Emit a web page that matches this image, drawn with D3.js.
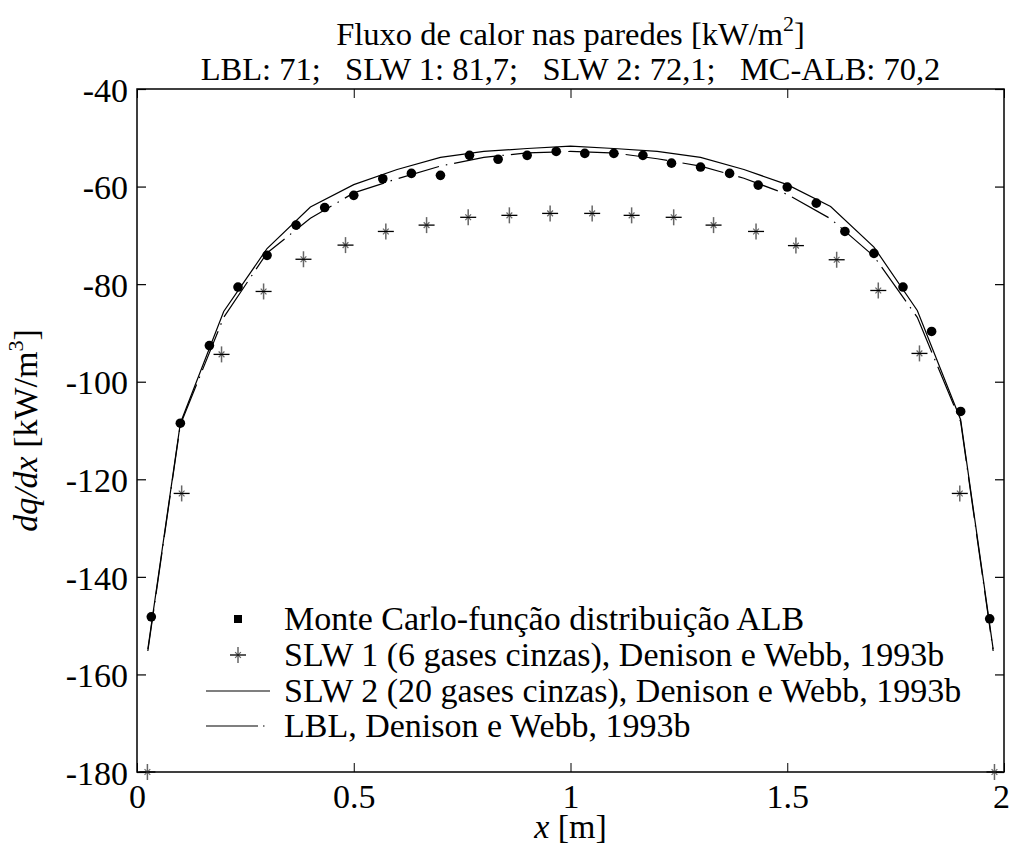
<!DOCTYPE html>
<html>
<head>
<meta charset="utf-8">
<script src="https://cdn.jsdelivr.net/npm/d3@7"></script>
<style>
  html, body { margin: 0; padding: 0; background: #fff; }
  svg { display: block; }
  text { font-family: "Liberation Serif", "Times New Roman", serif; fill: #000; }
</style>
</head>
<body>
<svg id="chart" width="1011" height="844"></svg>
<script>
// Monte Carlo (ALB distribution function) – filled circles
const mcX = [0.033, 0.1, 0.167, 0.233, 0.3, 0.367, 0.433, 0.5, 0.567, 0.633,
             0.7, 0.767, 0.833, 0.9, 0.967, 1.033, 1.1, 1.167, 1.233, 1.3,
             1.367, 1.433, 1.5, 1.567, 1.633, 1.7, 1.767, 1.833, 1.9, 1.967];
const mcY = [-148.2, -108.5, -92.6, -80.6, -74.1, -67.9, -64.3, -61.8, -58.4, -57.3,
             -57.7, -53.6, -54.4, -53.6, -52.8, -53.2, -53.2, -53.6, -55.2, -56.0,
             -57.3, -59.7, -60.1, -63.4, -69.2, -73.7, -80.6, -89.7, -106.1, -148.6];

// SLW 1 (6 grey gases) – asterisks
const slw1X = [0.024, 0.103, 0.195, 0.292, 0.384, 0.481, 0.574, 0.668, 0.764, 0.859, 0.953,
               1.05, 1.141, 1.238, 1.33, 1.428, 1.52, 1.614, 1.71, 1.805, 1.898, 1.978];
const slw1Y = [-180, -122.9, -94.4, -81.5, -74.9, -72.0, -69.2, -67.9, -66.3, -65.9, -65.5,
               -65.5, -65.9, -66.3, -67.9, -69.2, -72.1, -75.0, -81.3, -94.2, -122.9, -180];

// SLW 2 (20 grey gases) – solid line, and LBL – dash-dot line, on the same grid
const lineX = [0.025, 0.1, 0.2, 0.3, 0.4, 0.5, 0.6, 0.7, 0.8, 0.9, 1.0,
               1.1, 1.2, 1.3, 1.4, 1.5, 1.6, 1.7, 1.8, 1.9, 1.975];
const slw2Y = [-154.8, -108.5, -85.6, -72.7, -64.2, -59.6, -56.5, -54.0, -52.8, -52.2, -51.7,
               -52.2, -52.8, -54.0, -56.5, -59.6, -64.1, -72.4, -85.4, -107.8, -154.8];
const lblY  = [-155.2, -108.8, -86.8, -73.6, -66.5, -61.3, -58.4, -55.8, -54.0, -53.1, -52.8,
               -53.1, -54.3, -55.8, -58.3, -61.6, -66.6, -74.3, -86.8, -108.2, -155.2];

const xTicks = [0, 0.5, 1, 1.5, 2];
const xTickLabels = ["0", "0.5", "1", "1.5", "2"];
const yTicks = [-40, -60, -80, -100, -120, -140, -160, -180];
const yTickLabels = ["-40", "-60", "-80", "-100", "-120", "-140", "-160", "-180"];

const legendLabels = [
  "Monte Carlo-função distribuição ALB",
  "SLW 1 (6 gases cinzas), Denison e Webb, 1993b",
  "SLW 2 (20 gases cinzas), Denison e Webb, 1993b",
  "LBL, Denison e Webb, 1993b"
];

const svg = d3.select("#chart");
const L = 137, R = 1004, T = 89, B = 772;
const x = d3.scaleLinear().domain([0, 2]).range([L, R]);
const y = d3.scaleLinear().domain([-180, -40]).range([B, T]);

const FS = 34;      // axes, legend and labels
const TFS = 32.5;   // title lines
const SUP = 22;
const dashLBL = "42,7,1.5,7";

// Axes with inward ticks on all four sides
const tickLen = 9;
svg.append("g").attr("transform", `translate(0,${B})`)
  .call(d3.axisBottom(x).tickValues(xTicks).tickSizeInner(-tickLen).tickSizeOuter(0)
        .tickPadding(6).tickFormat((d, i) => xTickLabels[i]))
  .call(g => g.select(".domain").remove())
  .call(g => g.selectAll("line").attr("stroke", "#000").attr("stroke-width", 1))
  .call(g => g.selectAll("text").attr("font-size", FS).attr("y", 12).attr("dy", "0.72em")
              .attr("dx", d => d === 2 ? -3 : 0));
svg.append("g").attr("transform", `translate(0,${T})`)
  .call(d3.axisTop(x).tickValues(xTicks).tickSizeInner(-tickLen).tickSizeOuter(0).tickFormat(""))
  .call(g => g.select(".domain").remove())
  .call(g => g.selectAll("line").attr("stroke", "#000").attr("stroke-width", 1));
svg.append("g").attr("transform", `translate(${L},0)`)
  .call(d3.axisLeft(y).tickValues(yTicks).tickSizeInner(-tickLen).tickSizeOuter(0)
        .tickPadding(9).tickFormat((d, i) => yTickLabels[i]))
  .call(g => g.select(".domain").remove())
  .call(g => g.selectAll("line").attr("stroke", "#000").attr("stroke-width", 1.2))
  .call(g => g.selectAll("text").attr("font-size", FS).attr("dy", "0.36em"));
svg.append("g").attr("transform", `translate(${R},0)`)
  .call(d3.axisRight(y).tickValues(yTicks).tickSizeInner(-tickLen).tickSizeOuter(0).tickFormat(""))
  .call(g => g.select(".domain").remove())
  .call(g => g.selectAll("line").attr("stroke", "#000").attr("stroke-width", 1.2));

// Frame
svg.append("rect").attr("x", L).attr("y", T).attr("width", R - L).attr("height", B - T)
  .attr("fill", "none").attr("stroke", "#000").attr("stroke-width", 1.5);

const plot = svg.append("g");
const lineGen = d3.line().x(d => x(d[0])).y(d => y(d[1]));

// SLW 2 solid line
plot.append("path").datum(lineX.map((v, i) => [v, slw2Y[i]]))
  .attr("d", lineGen).attr("fill", "none").attr("stroke", "#000").attr("stroke-width", 1.2);
// LBL dash-dot line
plot.append("path").datum(lineX.map((v, i) => [v, lblY[i]]))
  .attr("d", lineGen).attr("fill", "none").attr("stroke", "#000").attr("stroke-width", 1.2)
  .attr("stroke-dasharray", dashLBL);

// Asterisk marker
function star(g, cx, cy, s) {
  const a = s * 0.36;
  g.append("line").attr("x1", cx).attr("x2", cx).attr("y1", cy - s).attr("y2", cy + s)
    .attr("stroke", "#666").attr("stroke-width", 1.5);
  g.append("line").attr("x1", cx - a).attr("x2", cx + a).attr("y1", cy - a).attr("y2", cy + a)
    .attr("stroke", "#666").attr("stroke-width", 1.2);
  g.append("line").attr("x1", cx - a).attr("x2", cx + a).attr("y1", cy + a).attr("y2", cy - a)
    .attr("stroke", "#666").attr("stroke-width", 1.2);
  g.append("line").attr("x1", cx - s).attr("x2", cx + s).attr("y1", cy).attr("y2", cy)
    .attr("stroke", "#000").attr("stroke-width", 1.3);
}
const stars = plot.append("g");
slw1X.forEach((v, i) => star(stars, x(v), y(slw1Y[i]), 8));

// Monte Carlo dots
plot.append("g").selectAll("circle").data(mcX.map((v, i) => [v, mcY[i]]))
  .join("circle").attr("cx", d => x(d[0])).attr("cy", d => y(d[1])).attr("r", 4.8).attr("fill", "#000");

// Legend
const lg = svg.append("g");
const legY = [619, 655, 691, 726];
const markX = 238, textX = 284;
lg.append("rect").attr("x", markX - 4).attr("y", legY[0] - 4).attr("width", 8).attr("height", 8).attr("fill", "#000");
star(lg, markX, legY[1], 8);
lg.append("line").attr("x1", 206).attr("x2", 270).attr("y1", legY[2]).attr("y2", legY[2])
  .attr("stroke", "#000").attr("stroke-width", 1.2);
lg.append("line").attr("x1", 206).attr("x2", 270).attr("y1", legY[3]).attr("y2", legY[3])
  .attr("stroke", "#000").attr("stroke-width", 1.2).attr("stroke-dasharray", "52,5,1.5,20");
legendLabels.forEach((t, i) => {
  lg.append("text").attr("x", textX).attr("y", legY[i]).attr("dy", "0.33em")
    .attr("font-size", FS).text(t);
});

// Titles
const title = svg.append("text").attr("x", (L + R) / 2).attr("y", 45).attr("text-anchor", "middle").attr("font-size", TFS);
title.append("tspan").text("Fluxo de calor nas paredes [kW/m");
title.append("tspan").attr("font-size", SUP).attr("dy", -14).text("2");
title.append("tspan").attr("dy", 14).text("]");
svg.append("text").attr("x", (L + R) / 2).attr("y", 80).attr("text-anchor", "middle").attr("font-size", TFS)
  .text("LBL: 71;\u00A0\u00A0 SLW 1: 81,7;\u00A0\u00A0 SLW 2: 72,1;\u00A0\u00A0 MC-ALB: 70,2");

// X axis label
const xl = svg.append("text").attr("x", (L + R) / 2).attr("y", 838).attr("text-anchor", "middle").attr("font-size", FS);
xl.append("tspan").attr("font-style", "italic").text("x");
xl.append("tspan").text(" [m]");

// Y axis label
const yl = svg.append("text").attr("transform", `translate(37,${(T + B) / 2}) rotate(-90)`)
  .attr("text-anchor", "middle").attr("font-size", FS);
yl.append("tspan").attr("font-style", "italic").text("dq/dx");
yl.append("tspan").text(" [kW/m");
yl.append("tspan").attr("font-size", SUP).attr("dy", -14).text("3");
yl.append("tspan").attr("dy", 14).text("]");
</script>
</body>
</html>
